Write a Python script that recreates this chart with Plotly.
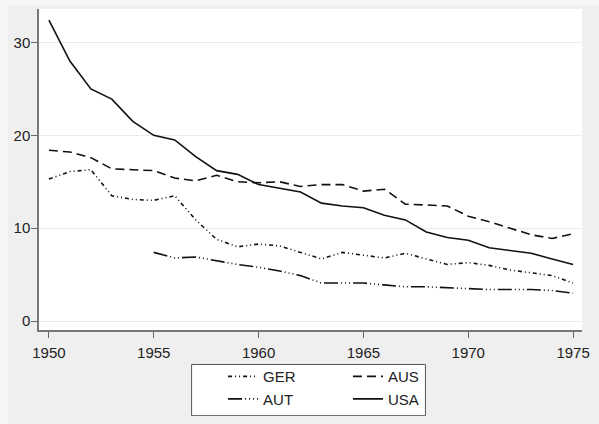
import plotly.graph_objects as go

years = list(range(1950, 1976))
aut_years = list(range(1955, 1976))

usa = [32.4, 28.0, 25.0, 23.9, 21.5, 20.0, 19.5, 17.7, 16.2, 15.8, 14.7, 14.3, 13.9,
       12.7, 12.4, 12.2, 11.4, 10.9, 9.6, 9.0, 8.7, 7.9, 7.6, 7.3, 6.7, 6.1]
aus = [18.4, 18.2, 17.6, 16.4, 16.3, 16.2, 15.4, 15.1, 15.7, 15.0, 14.9, 15.0, 14.5,
       14.7, 14.7, 14.0, 14.2, 12.6, 12.5, 12.4, 11.3, 10.7, 10.0, 9.3, 8.9, 9.4]
ger = [15.3, 16.1, 16.3, 13.5, 13.1, 13.0, 13.5, 10.9, 8.8, 8.0, 8.3, 8.1, 7.4,
       6.7, 7.4, 7.1, 6.8, 7.3, 6.7, 6.1, 6.3, 6.0, 5.5, 5.2, 4.9, 4.1]
aut = [7.4, 6.8, 6.9, 6.5, 6.1, 5.8, 5.4, 4.9, 4.1, 4.1, 4.1, 3.9, 3.7, 3.7, 3.6,
       3.5, 3.4, 3.4, 3.4, 3.3, 3.0]

x_ticks = [1950, 1955, 1960, 1965, 1970, 1975]
y_ticks = [0, 10, 20, 30]

FONT = "Liberation Sans, Arial, sans-serif"
LW = 1.6

fig = go.Figure()
fig.add_trace(go.Scatter(x=years, y=ger, name="GER", mode="lines", legend="legend",
                         line=dict(color="#111", width=LW, dash="4px,3px,1px,3px,1px,3px")))
fig.add_trace(go.Scatter(x=aut_years, y=aut, name="AUT", mode="lines", legend="legend",
                         line=dict(color="#111", width=LW, dash="14px,3px,1px,3px,1px,3px,1px,3px")))
fig.add_trace(go.Scatter(x=years, y=aus, name="AUS", mode="lines", legend="legend2",
                         line=dict(color="#111", width=LW, dash="9px,5px")))
fig.add_trace(go.Scatter(x=years, y=usa, name="USA", mode="lines", legend="legend2",
                         line=dict(color="#111", width=LW)))

legend_common = dict(orientation="v", bgcolor="rgba(0,0,0,0)", borderwidth=0,
                     font=dict(family=FONT, size=15, color="#222"),
                     xanchor="left", yanchor="top", yref="paper", xref="paper",
                     tracegroupgap=0, itemclick=False)

fig.update_layout(
    width=583, height=408,
    margin=dict(l=31, r=4, t=1, b=81),
    paper_bgcolor="#efefef",
    plot_bgcolor="white",
    font=dict(family=FONT, size=15, color="#222"),
    legend=dict(x=0.339, y=-0.094, **legend_common),
    legend2=dict(x=0.569, y=-0.094, **legend_common),
    shapes=[
        dict(type="rect", xref="paper", yref="paper",
             x0=0.281, x1=0.7117, y0=-0.2669, y1=-0.1074,
             fillcolor="white", line=dict(color="#555", width=1), layer="below"),
    ],
    xaxis=dict(range=[1949.527, 1975.425], tickvals=x_ticks, ticks="outside",
               ticklen=6, tickcolor="#666", tickwidth=1, showgrid=False,
               showline=True, linecolor="#777", linewidth=1.5, zeroline=False,
               ticklabeloverflow="allow",
               tickfont=dict(family=FONT, size=15, color="#222"), ticklabelstandoff=2),
    yaxis=dict(range=[-0.954, 33.6], tickvals=y_ticks, ticks="outside",
               ticklen=6, tickcolor="#666", tickwidth=1, showgrid=True,
               gridcolor="#e3edf2", gridwidth=1,
               showline=True, linecolor="#777", linewidth=1.5, zeroline=False,
               tickfont=dict(family=FONT, size=15, color="#222"), ticklabelstandoff=-2),
)

post = (
    "document.body.style.background="
    "'linear-gradient(to right,#f6f6f6 8px,transparent 8px),"
    "linear-gradient(to bottom,#f6f6f6 6px,#efefef 6px)';"
    "document.querySelectorAll('.main-svg').forEach(function(s){s.style.overflow='visible';});"
)
fig.write_html("out.html", config={"displayModeBar": False}, post_script=post)
